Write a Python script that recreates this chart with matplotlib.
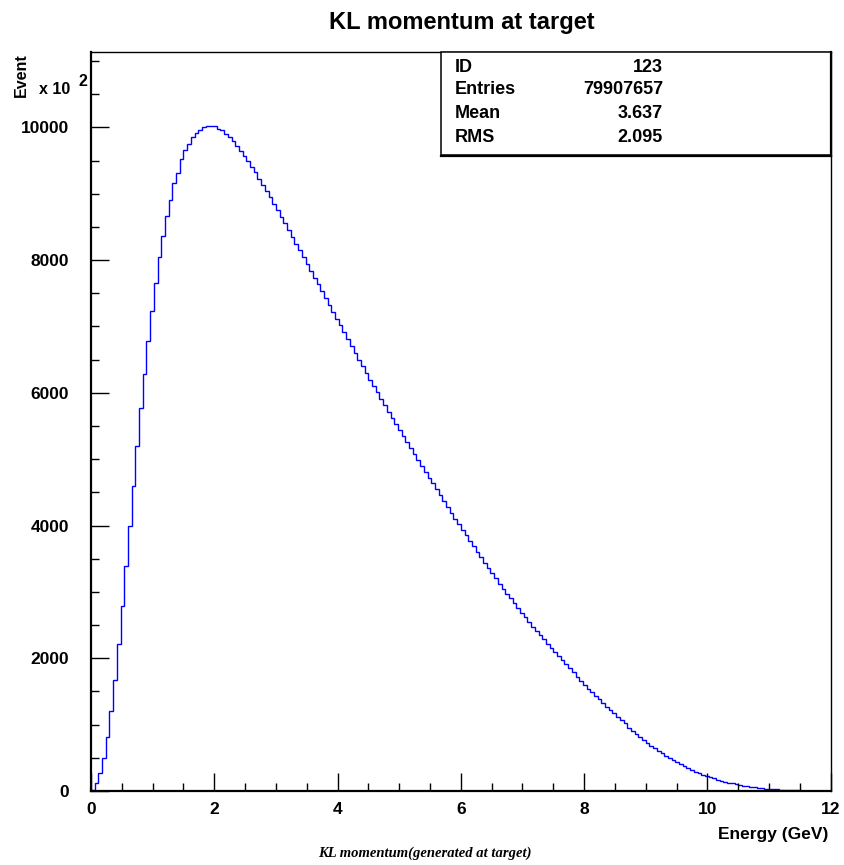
import numpy as np
import matplotlib
matplotlib.use('Agg')
import matplotlib.pyplot as plt
from matplotlib.ticker import MultipleLocator

# histogram: 200 bins from 0 to 12 GeV, contents in units of 10^2 events
n_bins = 200
e_min, e_max = 0.0, 12.0
counts = [
    20, 125, 271, 497, 814, 1201, 1673, 2216, 2783, 3391,
    3999, 4592, 5205, 5767, 6280, 6787, 7240, 7656, 8048, 8365,
    8671, 8903, 9159, 9319, 9521, 9656, 9751, 9852, 9922, 9967,
    10003, 10022, 10018, 10027, 9973, 9955, 9895, 9850, 9790, 9725,
    9650, 9575, 9495, 9410, 9320, 9225, 9135, 9043, 8948, 8851,
    8753, 8654, 8554, 8453, 8351, 8249, 8147, 8045, 7942, 7839,
    7736, 7633, 7530, 7427, 7324, 7221, 7118, 7015, 6912, 6809,
    6706, 6603, 6500, 6398, 6297, 6199, 6102, 6005, 5909, 5813,
    5717, 5622, 5527, 5433, 5344, 5255, 5166, 5077, 4988, 4899,
    4810, 4722, 4634, 4546, 4458, 4370, 4282, 4194, 4106, 4019,
    3935, 3851, 3768, 3685, 3603, 3521, 3440, 3360, 3281, 3203,
    3126, 3050, 2975, 2901, 2828, 2756, 2685, 2615, 2546, 2478,
    2413, 2348, 2284, 2220, 2157, 2094, 2032, 1970, 1909, 1849,
    1790, 1715, 1657, 1600, 1544, 1489, 1435, 1382, 1327, 1273,
    1220, 1168, 1117, 1067, 1018, 950, 903, 857, 812, 768,
    725, 684, 644, 605, 567, 531, 496, 463, 431, 401,
    372, 344, 318, 293, 270, 248, 227, 207, 189, 172,
    156, 141, 127, 114, 102, 91, 81, 72, 64, 56,
    49, 43, 37, 32, 28, 24, 20, 17, 14, 12,
    10, 8, 6, 4, 3, 2, 1, 0, 0, 0,
]

stats_labels = ['ID', 'Entries', 'Mean', 'RMS']
stats_values = ['123', '79907657', '3.637', '2.095']

edges = np.linspace(e_min, e_max, n_bins + 1)

plt.rcParams['font.family'] = ['Liberation Sans', 'DejaVu Sans']
fig = plt.figure(figsize=(8.45, 8.65), dpi=100)
ax = fig.add_axes([91 / 845, 1 - 791 / 865, (830.7 - 91) / 845, (791 - 51.7) / 865])

ax.stairs(counts, edges, color='#0000ff', linewidth=1.0)

ax.set_xlim(e_min, e_max)
ax.set_ylim(0, 11140)
ax.xaxis.set_major_locator(MultipleLocator(2))
ax.xaxis.set_minor_locator(MultipleLocator(0.5))
ax.yaxis.set_major_locator(MultipleLocator(2000))
ax.yaxis.set_minor_locator(MultipleLocator(500))
ax.tick_params(which='both', direction='in', top=False, right=False, width=1.0)
ax.tick_params(which='major', length=13)
ax.tick_params(which='minor', length=6)
ax.tick_params(axis='y', pad=16, labelsize=12.5)
ax.tick_params(axis='x', pad=8, labelsize=12.5)
for lab in ax.get_xticklabels() + ax.get_yticklabels():
    lab.set_fontweight('bold')
for sp in ax.spines.values():
    sp.set_linewidth(1.0)
ax.spines['left'].set_linewidth(1.6)
ax.spines['bottom'].set_linewidth(1.6)

fig.text(462 / 845, 1 - 23 / 865, 'KL momentum at target', ha='center', va='center',
         fontsize=17, fontweight='bold')
fig.text(21 / 845, 1 - 53 / 865, 'Event', rotation=90, ha='center', va='top',
         fontsize=11.5, fontweight='bold')
fig.text(39 / 845, 1 - 89 / 865, 'x 10', ha='left', va='center', fontsize=11.5, fontweight='bold')
fig.text(79 / 845, 1 - 82 / 865, '2', ha='left', va='center', fontsize=11.5, fontweight='bold')
fig.text(828 / 845, 1 - 834 / 865, 'Energy (GeV)', ha='right', va='center',
         fontsize=12.5, fontweight='bold')
fig.text(425 / 845, 1 - 853 / 865, 'KL momentum(generated at target)', ha='center', va='center',
         fontsize=10.5, fontweight='bold', style='italic', family=['Liberation Serif'])

# stats box (with slightly heavier right/bottom edge like ROOT)
box = plt.Rectangle((441 / 845, 1 - 155 / 865), (830.7 - 441) / 845, (155 - 51.7) / 865,
                    transform=fig.transFigure, fill=True, facecolor='white',
                    edgecolor='black', linewidth=1.1)
fig.add_artist(box)
fig.add_artist(plt.Line2D([441 / 845, 831 / 845], [1 - 155.5 / 865] * 2,
                          transform=fig.transFigure, color='black', linewidth=1.6))
fig.add_artist(plt.Line2D([830.9 / 845] * 2, [1 - 155.5 / 865, 1 - 51.7 / 865],
                          transform=fig.transFigure, color='black', linewidth=1.6))
rows_y = [67, 90, 113, 137]
for lab, val, yy in zip(stats_labels, stats_values, rows_y):
    fig.text(455 / 845, 1 - yy / 865, lab, ha='left', va='center', fontsize=13, fontweight='bold')
    fig.text(663 / 845, 1 - yy / 865, val, ha='right', va='center', fontsize=13, fontweight='bold')

fig.savefig('out.png', dpi=100)
